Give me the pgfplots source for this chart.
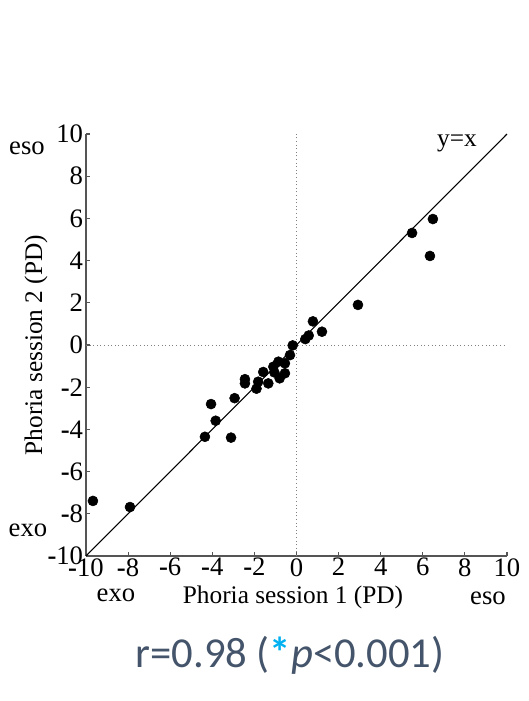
\documentclass[border=0pt]{standalone}
\usepackage{pgfplots}
\pgfplotsset{compat=1.18}
\usepackage{fontspec}
\setmainfont{Liberation Serif}
\newfontfamily\carlito{Carlito}
\definecolor{txtgray}{HTML}{44546A}
\definecolor{starcyan}{HTML}{00B0F0}
\definecolor{axgray}{HTML}{555555}
\newcommand{\mn}{{\bfseries -}}
\begin{document}
\begin{tikzpicture}[x=0.75pt,y=0.75pt]
\useasboundingbox (0,0) rectangle (529,701);
\begin{axis}[
  at={(64.5pt,108.75pt)}, anchor=south west,
  scale only axis, width=315.75pt, height=316.5pt,
  xmin=-10, xmax=10, ymin=-10, ymax=10,
  axis x line*=bottom, axis y line*=left,
  axis line style={-, axgray, line width=0.9pt},
  tick align=inside, major tick length=3pt,
  tick style={axgray, line width=0.8pt},
  xtick={-10,-8,...,10}, ytick={-10,-8,...,10},
  xticklabels={\mn10,\mn8,\mn6,\mn4,\mn2,0,2,4,6,8,10},
  yticklabels={\mn10,\mn8,\mn6,\mn4,\mn2,0,2,4,6,8,10},
  ticklabel style={font=\fontsize{20}{22}\selectfont},
  xticklabel style={yshift=-0.5pt, inner sep=1pt},
  yticklabel style={xshift=-1pt, inner sep=1pt},
  clip=false,
]
\addplot[gray, dotted, line width=0.7pt] coordinates {(0,-10) (0,10)};
\addplot[gray, dotted, line width=0.7pt] coordinates {(-10,0) (10,0)};
\addplot[black, line width=0.8pt] coordinates {(-10,-10) (10,10)};
\addplot[only marks, mark=*, mark size=3.75pt, black] coordinates {
(-9.67,-7.39) (-7.91,-7.68) (6.48,5.97) (5.49,5.31) (6.34,4.22)
(2.92,1.90) (0.78,1.12) (1.21,0.63) (0.42,0.28) (0.58,0.45)
(-0.18,-0.02) (-0.31,-0.48) (-0.55,-0.87) (-0.86,-0.79) (-1.10,-1.03)
(-0.55,-1.34) (-0.80,-1.58) (-1.58,-1.28) (-1.34,-1.82) (-1.82,-1.74)
(-1.90,-2.07) (-2.45,-1.62) (-2.45,-1.82) (-2.94,-2.52) (-4.06,-2.80)
(-3.84,-3.59) (-4.35,-4.35) (-3.11,-4.39) (-1.05,-1.30)
};
\end{axis}
\node[font=\fontsize{20}{22}\selectfont] at (27,701-148) {eso};
\node[font=\fontsize{20}{22}\selectfont] at (28,701-530) {exo};
\node[font=\fontsize{20}{22}\selectfont] at (116,701-595) {exo};
\node[font=\fontsize{20}{22}\selectfont] at (488,701-598) {eso};
\node[font=\fontsize{19}{22}\selectfont] at (293,701-597) {Phoria session 1 (PD)};
\node[font=\fontsize{19}{22}\selectfont, rotate=90] at (36,701-345) {Phoria session 2 (PD)};
\node[font=\fontsize{19}{22}\selectfont] at (457,701-143) {y=x};
\node[font=\carlito\fontsize{32}{36}\selectfont, text=txtgray] at (290,701-655) {r=0.98 ({\color{starcyan}\bfseries *}\textit{p}<0.001)};
\end{tikzpicture}
\end{document}
